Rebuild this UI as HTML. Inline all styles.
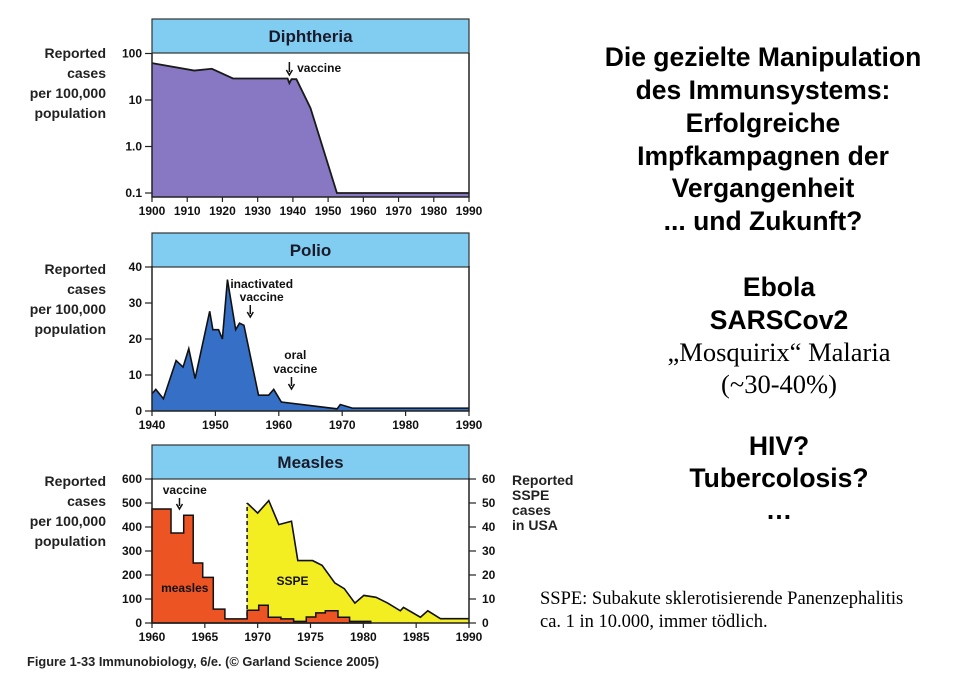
<!DOCTYPE html>
<html><head><meta charset="utf-8"><style>
html,body{margin:0;padding:0;background:#fff;}
svg{display:block;}
.t{font-family:"Liberation Sans",sans-serif;}
.lab{font-family:"Liberation Sans",sans-serif;font-weight:bold;font-size:14px;fill:#222;}
.tick{font-family:"Liberation Sans",sans-serif;font-weight:bold;font-size:12px;fill:#111;}
.big{font-family:"Liberation Sans",sans-serif;font-weight:bold;font-size:26.5px;fill:#000;}
.ser{font-family:"Liberation Serif",serif;font-size:26.5px;fill:#000;}
</style></head><body>
<svg id="s" width="954" height="688" viewBox="0 0 954 688" xmlns="http://www.w3.org/2000/svg">
<g id="txt">
<text class="big" x="763" y="66" text-anchor="middle">Die gezielte Manipulation</text>
<text class="big" x="763" y="99" text-anchor="middle">des Immunsystems:</text>
<text class="big" x="763" y="132" text-anchor="middle">Erfolgreiche</text>
<text class="big" x="763" y="165" text-anchor="middle">Impfkampagnen der</text>
<text class="big" x="763" y="197" text-anchor="middle">Vergangenheit</text>
<text class="big" x="763" y="230" text-anchor="middle">... und Zukunft?</text>
<text class="big" x="779" y="296" text-anchor="middle">Ebola</text>
<text class="big" x="779" y="329" text-anchor="middle">SARSCov2</text>
<text class="ser" x="779" y="361" text-anchor="middle">„Mosquirix“ Malaria</text>
<text class="ser" x="779" y="393" text-anchor="middle">(~30-40%)</text>
<text class="big" x="779" y="455" text-anchor="middle">HIV?</text>
<text class="big" x="779" y="487" text-anchor="middle">Tubercolosis?</text>
<text class="big" x="779" y="519" text-anchor="middle">…</text>
<text x="540" y="604" style="font-family:'Liberation Serif',serif;font-size:18.5px">SSPE: Subakute sklerotisierende Panenzephalitis</text>
<text x="540" y="627" style="font-family:'Liberation Serif',serif;font-size:18.5px">ca. 1 in 10.000, immer tödlich.</text>
<text x="27" y="666" class="t" style="font-weight:bold;font-size:12.8px;fill:#222">Figure 1-33  Immunobiology, 6/e. (© Garland Science 2005)</text>
</g>
</svg>
<script>
// Diphtheria (log scale)
const diphYears = [1900,1912,1917,1923,1938.5,1939,1939.6,1941,1945,1952.5,1990];
const diphValues = [62,43,47,29,29,23,28,28,6.7,0.1,0.1];
const diphTicks = [100,10,1.0,0.1];
const diphTickLabels = ['100','10','1.0','0.1'];
const diphXLabels = [1900,1910,1920,1930,1940,1950,1960,1970,1980,1990];
// Polio
const polioYears = [1940,1940.6,1941.8,1943.8,1944.9,1945.8,1946.8,1949.1,1949.6,1950.5,1951.1,1951.9,1953.2,1953.8,1954.5,1956.8,1958.4,1959.2,1960.4,1969.2,1969.7,1971.6,1990];
const polioValues = [4.8,6,3.4,14,12.2,17.3,9,27.7,22.6,22.6,20,36.5,22.6,24.4,23.8,4.4,4.4,6,2.5,0.6,1.8,0.8,0.8];
const polioTicks = [0,10,20,30,40];
const polioXLabels = [1940,1950,1960,1970,1980,1990];
// Measles (step)
const measlesStarts = [1960,1961.8,1963,1963.9,1964.8,1965.8,1966.9,1969,1970.1,1971,1972.2,1973.4,1974.6,1975.5,1976.4,1977.6,1978.7];
const measlesValues = [475,375,449,250,190,58,17,53,74,24,17,7,25,42,51,24,7];
const measlesEnd = 1980.7;
const measlesTicks = [0,100,200,300,400,500,600];
const measlesXLabels = [1960,1965,1970,1975,1980,1985,1990];
// SSPE (right axis)
const sspeYears = [1969,1970,1971.05,1972,1973.2,1973.8,1975.2,1976.1,1977.3,1978.2,1979.2,1980.05,1981.2,1982.3,1983.5,1983.8,1985.4,1986.1,1987.3,1990];
const sspeValues = [50,45.8,51,41,42.4,26,26,24,16.7,14.3,8.3,11.5,10.7,8.3,5.1,6.5,2.4,5.1,1.8,1.8];
const sspeTicks = [0,10,20,30,40,50,60];

const NS='http://www.w3.org/2000/svg';
const svg=document.getElementById('s');
function mk(tag,attrs,parent,text){const e=document.createElementNS(NS,tag);for(const k in attrs)e.setAttribute(k,attrs[k]);if(text!==undefined)e.textContent=text;(parent||svg).appendChild(e);return e;}
const X0=152,X1=469;
function panel(name,top,titleText){
  const g=mk('g',{}, svg);
  
  
  const band=mk('rect',{x:X0,y:top,width:X1-X0,height:34,fill:'#80cdf1',stroke:'#333','stroke-width':1.2},g);
  
  
  const tt=mk('text',{x:(X0+X1)/2,y:top+23,'text-anchor':'middle',class:'t','font-weight':'bold','font-size':'17',fill:'#1a1a2a'},g,titleText);
  
  
  return g;
}
function ylab(g,name,ybase){
  const lines=['Reported','cases','per 100,000','population'];
  lines.forEach((l,i)=>{const t=mk('text',{x:106,y:ybase+i*20,'text-anchor':'end',class:'lab'},g,l);
    
    });
}
function frame(g,name,top,bottom){
  const f=mk('path',{d:`M${X0},${top} V${bottom} H${X1} V${top}`,fill:'none',stroke:'#222','stroke-width':1.5},g);
  
  
}
function xaxis(g,name,labels,xs,bottom){
  labels.forEach(v=>{const x=xs(v);
    const tk=mk('line',{x1:x,x2:x,y1:bottom,y2:bottom+5,stroke:'#222','stroke-width':1.2},g);
    
    
    const t=mk('text',{x:x,y:bottom+18,'text-anchor':'middle',class:'tick'},g,String(v));
    
    });
}
function ytick(g,name,y,label,side){
  const x=side==='r'?X1:X0;
  const tk=mk('line',{x1:side==='r'?x:x-7,x2:side==='r'?x+7:x,y1:y,y2:y,stroke:'#222','stroke-width':1.2},g);
  
  
  const t=mk('text',{x:side==='r'?x+13:x-10,y:y+4,'text-anchor':side==='r'?'start':'end',class:'tick'},g,label);
  
  
}
function arrow(g,name,x,y1,y2){
  const a=mk('path',{d:`M${x},${y1} V${y2-3} M${x-3},${y2-5} L${x},${y2} L${x+3},${y2-5}`,stroke:'#111','stroke-width':1.5,fill:'none'},g);
  
  
}
// ---------- Diphtheria ----------
{
  const top=19,pt=53,bot=197;
  const g=panel('diphtheria',top,'Diphtheria');
  const xs=y=>X0+(y-1900)/90*(X1-X0);
  const ys=v=>100-(Math.log10(v)-1)*46.5;
  let d=`M${xs(diphYears[0])},${bot}`;
  diphYears.forEach((yr,i)=>d+=` L${xs(yr)},${ys(diphValues[i])}`);
  d+=` L${xs(diphYears[diphYears.length-1])},${bot} Z`;
  const a=mk('path',{d:d,fill:'#8877c2',stroke:'none'},g);
  
  
  let l='';diphYears.forEach((yr,i)=>l+=(i?' L':'M')+xs(yr)+','+ys(diphValues[i]));
  const ln=mk('path',{d:l,fill:'none',stroke:'#1a1a1a','stroke-width':1.8},g);
  
  
  frame(g,'diphtheria',pt,bot);
  diphTicks.forEach((v,i)=>ytick(g,'diphtheria',ys(v),diphTickLabels[i],'l'));
  xaxis(g,'diphtheria',diphXLabels,xs,bot);
  ylab(g,'diphtheria',58);
  arrow(g,'diphtheria-vaccine-arrow',xs(1939),62,75);
  const vt=mk('text',{x:xs(1941.2),y:72,class:'tick','font-size':'12'},g,'vaccine');
  
  
}
// ---------- Polio ----------
{
  const top=233,pt=266,bot=411;
  const g=panel('polio',top,'Polio');
  const xs=y=>X0+(y-1940)/50*(X1-X0);
  const ys=v=>bot-v*3.6;
  let d=`M${xs(polioYears[0])},${bot}`;
  polioYears.forEach((yr,i)=>d+=` L${xs(yr)},${ys(polioValues[i])}`);
  d+=` L${xs(polioYears[polioYears.length-1])},${bot} Z`;
  const a=mk('path',{d:d,fill:'#3570c6',stroke:'none'},g);
  
  
  let l='';polioYears.forEach((yr,i)=>l+=(i?' L':'M')+xs(yr)+','+ys(polioValues[i]));
  const ln=mk('path',{d:l,fill:'none',stroke:'#111','stroke-width':1.6},g);
  
  
  frame(g,'polio',pt,bot);
  polioTicks.forEach(v=>ytick(g,'polio',ys(v),String(v),'l'));
  xaxis(g,'polio',polioXLabels,xs,bot);
  ylab(g,'polio',274);
  const t1=mk('text',{x:xs(1957.3),y:288,'text-anchor':'middle',class:'tick'},g,'inactivated');
  
  
  const t2=mk('text',{x:xs(1957.3),y:301,'text-anchor':'middle',class:'tick'},g,'vaccine');
  
  
  arrow(g,'polio-inactivated-arrow',xs(1955.5),305,317);
  const t3=mk('text',{x:xs(1962.6),y:359,'text-anchor':'middle',class:'tick'},g,'oral');
  
  
  const t4=mk('text',{x:xs(1962.6),y:373,'text-anchor':'middle',class:'tick'},g,'vaccine');
  
  
  arrow(g,'polio-oral-arrow',xs(1962),377,389);
}
// ---------- Measles ----------
{
  const top=445,pt=478,bot=623;
  const g=panel('measles',top,'Measles');
  const xs=y=>X0+(y-1960)/30*(X1-X0);
  const ys=v=>bot-v*0.24;
  const yr=v=>bot-v*2.4;
  let d=`M${xs(sspeYears[0])},${bot}`;
  sspeYears.forEach((y,i)=>d+=` L${xs(y)},${yr(sspeValues[i])}`);
  d+=` L${xs(sspeYears[sspeYears.length-1])},${bot} Z`;
  const sa=mk('path',{d:d,fill:'#f3ee22',stroke:'none'},g);
  
  
  let l='';sspeYears.forEach((y,i)=>l+=(i?' L':'M')+xs(y)+','+yr(sspeValues[i]));
  const sl=mk('path',{d:l,fill:'none',stroke:'#111','stroke-width':1.6},g);
  
  
  const dl=mk('line',{x1:xs(sspeYears[0]),x2:xs(sspeYears[0]),y1:bot,y2:yr(sspeValues[0]),stroke:'#111','stroke-width':1.5,'stroke-dasharray':'4,3'},g);
  
  
  let m=`M${xs(measlesStarts[0])},${bot}`;
  measlesStarts.forEach((s,i)=>{const e=i<measlesStarts.length-1?measlesStarts[i+1]:measlesEnd;
    m+=` L${xs(s)},${ys(measlesValues[i])} L${xs(e)},${ys(measlesValues[i])}`;});
  m+=` L${xs(measlesEnd)},${bot} Z`;
  const ma=mk('path',{d:m,fill:'#ec5424',stroke:'#111','stroke-width':1.5},g);
  
  
  frame(g,'measles',pt,bot);
  measlesTicks.forEach(v=>ytick(g,'measles',ys(v),String(v),'l'));
  sspeTicks.forEach(v=>ytick(g,'sspe',yr(v),String(v),'r'));
  xaxis(g,'measles',measlesXLabels,xs,bot);
  ylab(g,'measles',486);
  ['Reported','SSPE','cases','in USA'].forEach((s,i)=>{const t=mk('text',{x:512,y:485+i*15,class:'lab','font-size':'13.5'},g,s);
    
    });
  const vt=mk('text',{x:xs(1963.1),y:494,'text-anchor':'middle',class:'tick'},g,'vaccine');
  
  
  arrow(g,'measles-vaccine-arrow',xs(1962.6),498,509);
  const ml=mk('text',{x:xs(1963.1),y:592,'text-anchor':'middle',class:'tick','font-size':'12.5',fill:'#4a1508'},g,'measles');
  
  
  const sp=mk('text',{x:xs(1973.3),y:585,'text-anchor':'middle',class:'tick','font-size':'12.5',fill:'#4a4000'},g,'SSPE');
  
  
}
</script>
</body></html>
